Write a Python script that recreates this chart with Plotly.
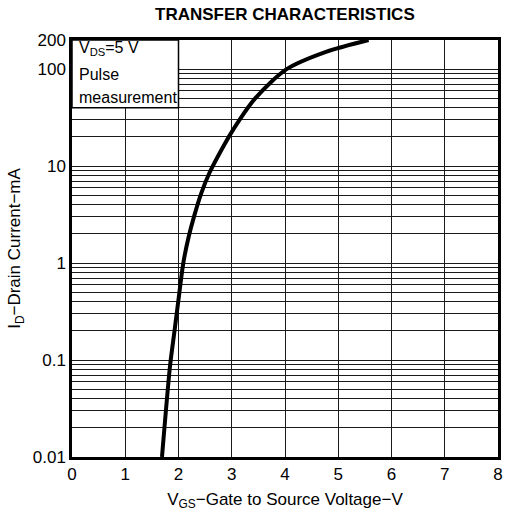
import math
import plotly.graph_objects as go

# Curve data
vgs = [1.69, 1.84, 1.92, 2.00, 2.09, 2.19, 2.29, 2.43, 2.58, 2.80, 3.01, 3.44, 4.03, 4.77, 5.57]
id_ma = [0.01, 0.086, 0.19, 0.42, 1.0, 1.86, 3.0, 5.3, 8.5, 14.5, 23.0, 50.0, 100.0, 151.0, 200.0]

# Axis ticks
x_ticks = [0, 1, 2, 3, 4, 5, 6, 7, 8]
y_tickvals = [0.01, 0.1, 1, 10, 100, 200]
y_ticktext = ["0.01", "0.1", "1", "10", "100", "200"]
y_grid = [m * 10.0 ** e for e in range(-2, 2) for m in range(2, 10)]

FONT = "Liberation Sans, Arial, Helvetica, sans-serif"
GRID = "#1a1a1a"

fig = go.Figure()
fig.add_trace(go.Scatter(
    x=vgs, y=id_ma, mode="lines",
    line=dict(color="black", width=4, shape="spline", smoothing=0.8),
    showlegend=False, hoverinfo="skip",
))

# white note box in the upper-left
fig.add_shape(type="rect", xref="x", yref="y", x0=0, x1=2, y0=40, y1=200,
              fillcolor="white", line=dict(color="black", width=1.5), layer="above")

notes = [("V<sub>DS</sub>=5 V", 50), ("Pulse", 76), ("measurement", 99)]
for txt, py in notes:
    ylog = 2 + (70.7 - py) / 96.9
    fig.add_annotation(x=0.09, y=ylog, xref="x", yref="y", text=txt, showarrow=False,
                       xanchor="left", yanchor="middle",
                       font=dict(family=FONT, size=16, color="black"))

fig.update_xaxes(
    range=[0, 8], tickvals=x_ticks, ticktext=[str(v) for v in x_ticks],
    showgrid=True, gridcolor=GRID, gridwidth=1.3, zeroline=False,
    showline=True, linecolor="black", linewidth=2.5, mirror=True, ticks="",
    tickfont=dict(family=FONT, size=17, color="black"),
    title=dict(text="V<sub>GS</sub>−Gate to Source Voltage−V",
               font=dict(family=FONT, size=17, color="black"), standoff=10),
)
fig.update_yaxes(
    type="log", range=[-2, math.log10(200)], tickvals=y_tickvals, ticktext=y_ticktext,
    showgrid=True, gridcolor=GRID, gridwidth=1.3, zeroline=False,
    minor=dict(tickmode="array", tickvals=y_grid, showgrid=True,
               gridcolor=GRID, gridwidth=1.2, ticks=""),
    showline=True, linecolor="black", linewidth=2.5, mirror=True, ticks="",
    tickfont=dict(family=FONT, size=17, color="black"),
    title=dict(text="I<sub>D</sub>−Drain Current−mA",
               font=dict(family=FONT, size=17, color="black"), standoff=8),
)

fig.update_layout(
    width=506, height=512,
    margin=dict(l=72, r=3, t=40, b=55),
    paper_bgcolor="white", plot_bgcolor="white",
    title=dict(text="<b>TRANSFER CHARACTERISTICS</b>", x=0.563, xanchor="center",
               y=0.972, yanchor="middle",
               font=dict(family=FONT, size=17, color="black")),
)

fig.write_html("out.html", config={"displayModeBar": False},
               post_script="document.body.style.margin='0';")
